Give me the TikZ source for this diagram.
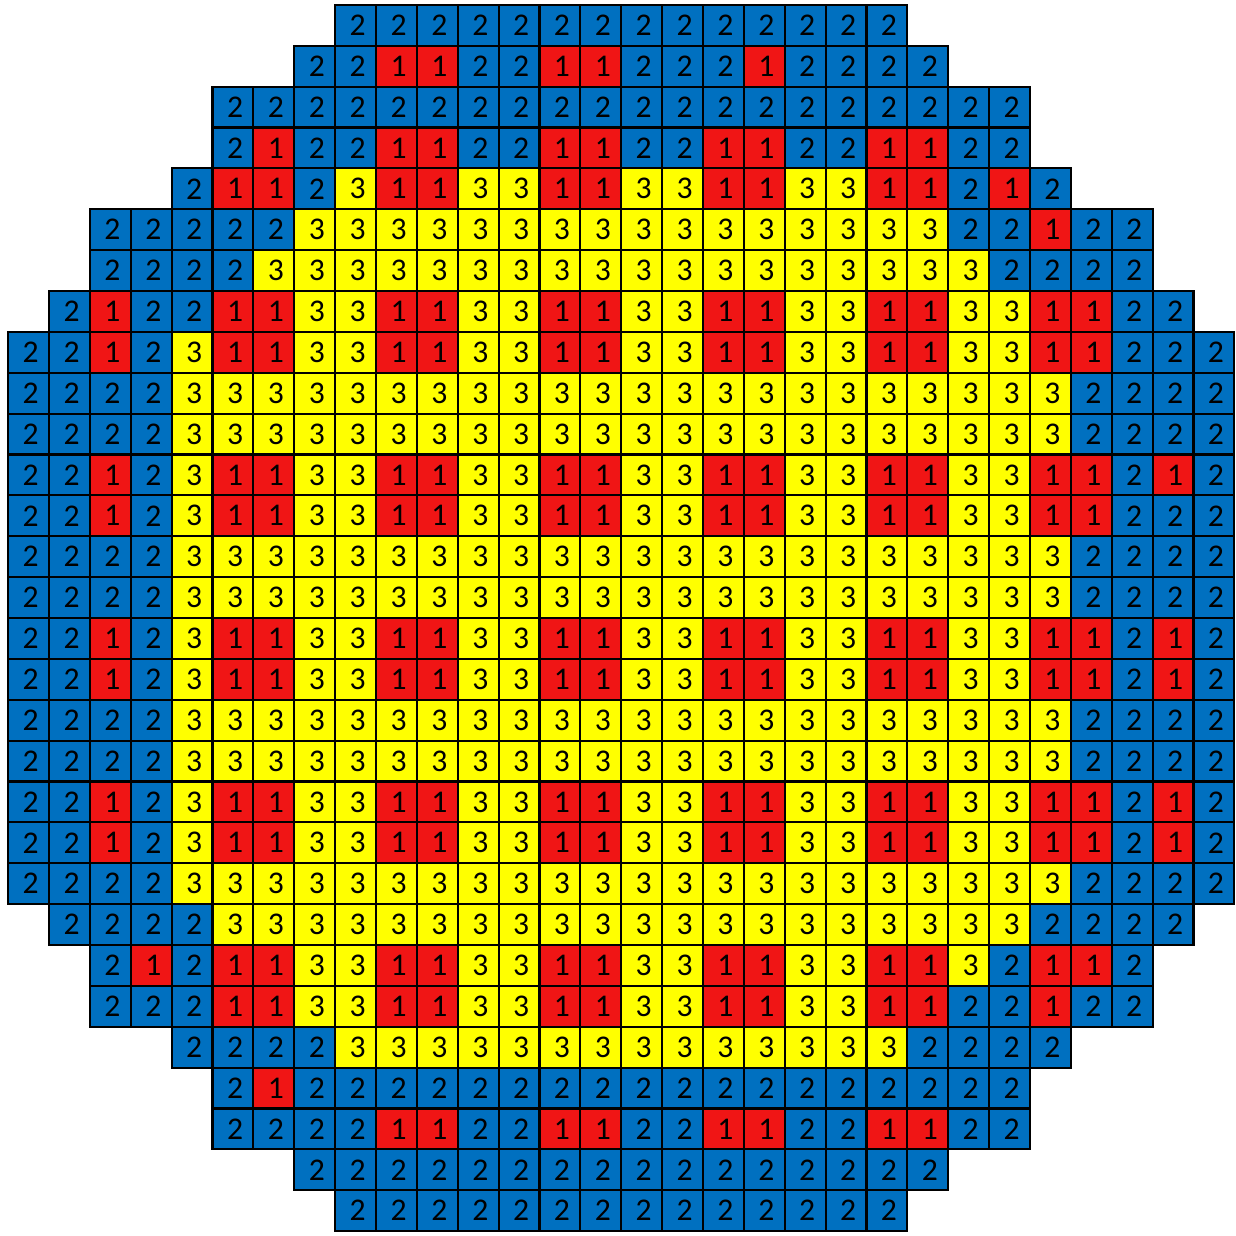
\documentclass[tikz,border=0pt]{standalone}
\usepackage{fontspec}
\setmainfont{Carlito}
\definecolor{pin1}{HTML}{F01515}
\definecolor{pin2}{HTML}{0070C0}
\definecolor{pin3}{HTML}{FFFF00}

\begin{document}
\begin{tikzpicture}[
    cell/.style={draw=black, line width=1.5pt, minimum size=1cm, inner sep=0pt,
      font=\fontsize{22}{22}\selectfont}
  ]
    % Fix the page size
    \useasboundingbox (-0.2,-0.12) rectangle (30.02,30.12);
    % Draw the core map, row by row from the top (row / first column / values)
    \foreach \r/\s/\vals in {
        0/8/{2,2,2,2,2,2,2,2,2,2,2,2,2,2},
        1/7/{2,2,1,1,2,2,1,1,2,2,2,1,2,2,2,2},
        2/5/{2,2,2,2,2,2,2,2,2,2,2,2,2,2,2,2,2,2,2,2},
        3/5/{2,1,2,2,1,1,2,2,1,1,2,2,1,1,2,2,1,1,2,2},
        4/4/{2,1,1,2,3,1,1,3,3,1,1,3,3,1,1,3,3,1,1,2,1,2},
        5/2/{2,2,2,2,2,3,3,3,3,3,3,3,3,3,3,3,3,3,3,3,3,2,2,1,2,2},
        6/2/{2,2,2,2,3,3,3,3,3,3,3,3,3,3,3,3,3,3,3,3,3,3,2,2,2,2},
        7/1/{2,1,2,2,1,1,3,3,1,1,3,3,1,1,3,3,1,1,3,3,1,1,3,3,1,1,2,2},
        8/0/{2,2,1,2,3,1,1,3,3,1,1,3,3,1,1,3,3,1,1,3,3,1,1,3,3,1,1,2,2,2},
        9/0/{2,2,2,2,3,3,3,3,3,3,3,3,3,3,3,3,3,3,3,3,3,3,3,3,3,3,2,2,2,2},
        10/0/{2,2,2,2,3,3,3,3,3,3,3,3,3,3,3,3,3,3,3,3,3,3,3,3,3,3,2,2,2,2},
        11/0/{2,2,1,2,3,1,1,3,3,1,1,3,3,1,1,3,3,1,1,3,3,1,1,3,3,1,1,2,1,2},
        12/0/{2,2,1,2,3,1,1,3,3,1,1,3,3,1,1,3,3,1,1,3,3,1,1,3,3,1,1,2,2,2},
        13/0/{2,2,2,2,3,3,3,3,3,3,3,3,3,3,3,3,3,3,3,3,3,3,3,3,3,3,2,2,2,2},
        14/0/{2,2,2,2,3,3,3,3,3,3,3,3,3,3,3,3,3,3,3,3,3,3,3,3,3,3,2,2,2,2},
        15/0/{2,2,1,2,3,1,1,3,3,1,1,3,3,1,1,3,3,1,1,3,3,1,1,3,3,1,1,2,1,2},
        16/0/{2,2,1,2,3,1,1,3,3,1,1,3,3,1,1,3,3,1,1,3,3,1,1,3,3,1,1,2,1,2},
        17/0/{2,2,2,2,3,3,3,3,3,3,3,3,3,3,3,3,3,3,3,3,3,3,3,3,3,3,2,2,2,2},
        18/0/{2,2,2,2,3,3,3,3,3,3,3,3,3,3,3,3,3,3,3,3,3,3,3,3,3,3,2,2,2,2},
        19/0/{2,2,1,2,3,1,1,3,3,1,1,3,3,1,1,3,3,1,1,3,3,1,1,3,3,1,1,2,1,2},
        20/0/{2,2,1,2,3,1,1,3,3,1,1,3,3,1,1,3,3,1,1,3,3,1,1,3,3,1,1,2,1,2},
        21/0/{2,2,2,2,3,3,3,3,3,3,3,3,3,3,3,3,3,3,3,3,3,3,3,3,3,3,2,2,2,2},
        22/1/{2,2,2,2,3,3,3,3,3,3,3,3,3,3,3,3,3,3,3,3,3,3,3,3,2,2,2,2},
        23/2/{2,1,2,1,1,3,3,1,1,3,3,1,1,3,3,1,1,3,3,1,1,3,2,1,1,2},
        24/2/{2,2,2,1,1,3,3,1,1,3,3,1,1,3,3,1,1,3,3,1,1,2,2,1,2,2},
        25/4/{2,2,2,2,3,3,3,3,3,3,3,3,3,3,3,3,3,3,2,2,2,2},
        26/5/{2,1,2,2,2,2,2,2,2,2,2,2,2,2,2,2,2,2,2,2},
        27/5/{2,2,2,2,1,1,2,2,1,1,2,2,1,1,2,2,1,1,2,2},
        28/7/{2,2,2,2,2,2,2,2,2,2,2,2,2,2,2,2},
        29/8/{2,2,2,2,2,2,2,2,2,2,2,2,2,2}} {
      \foreach \v [count=\i from 0] in \vals {
        \pgfmathtruncatemacro{\c}{\s+\i}
        \node[cell, fill=pin\v] (c-\r-\c) at (\c+0.5,29.5-\r) {\hspace*{0.1cm}\v};
      }
    }
\end{tikzpicture}
\end{document}
